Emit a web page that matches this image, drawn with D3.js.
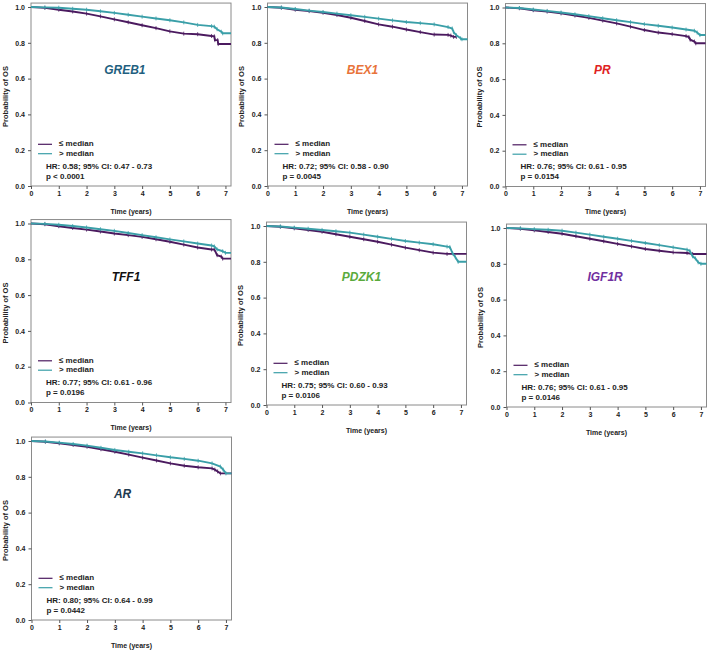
<!DOCTYPE html>
<html>
<head>
<meta charset="utf-8">
<script src="https://cdn.jsdelivr.net/npm/d3@7.9.0/dist/d3.min.js"></script>
<style>
  body { margin: 0; background: #fff; }
  svg { display: block; }
  text { font-family: "Liberation Sans", Arial, sans-serif; }
</style>
</head>
<body>
<svg id="chart" width="709" height="652"></svg>
<script>
// Gene panels
const genes = ['GREB1', 'BEX1', 'PR', 'TFF1', 'PDZK1', 'IGF1R', 'AR'];
const hrLabels = [
  'HR: 0.58; 95% CI: 0.47 - 0.73',
  'HR: 0.72; 95% CI: 0.58 - 0.90',
  'HR: 0.76; 95% CI: 0.61 - 0.95',
  'HR: 0.77; 95% CI: 0.61 - 0.96',
  'HR: 0.75; 95% CI: 0.60 - 0.93',
  'HR: 0.76; 95% CI: 0.61 - 0.95',
  'HR: 0.80; 95% CI: 0.64 - 0.99'
];
const pLabels = ['p < 0.0001', 'p = 0.0045', 'p = 0.0154', 'p = 0.0196', 'p = 0.0106', 'p = 0.0146', 'p = 0.0442'];
const titleColors = ['#1f5f80', '#e8733a', '#e02222', '#111111', '#5aaa3c', '#7030a0', '#1f3a4f'];

// Survival curves: [time (years), probability]
const lowCurves = [
  [[0,1],[0.5,0.995],[1,0.985],[1.5,0.975],[2,0.963],[2.5,0.948],[3,0.931],[3.5,0.915],[4,0.898],[4.5,0.882],[5,0.864],[5.5,0.851],[6,0.848],[6.5,0.838],[6.6,0.836],[6.62,0.815],[6.72,0.815],[6.74,0.793],[7.2,0.793]],
  [[0,1],[0.5,0.996],[1,0.985],[1.5,0.977],[2,0.968],[2.5,0.955],[3,0.94],[3.5,0.922],[4,0.903],[4.5,0.89],[5,0.874],[5.5,0.86],[6,0.846],[6.5,0.844],[6.6,0.84],[6.7,0.833],[6.8,0.833]],
  [[0,1],[0.5,0.996],[1,0.985],[1.5,0.977],[2,0.967],[2.5,0.955],[3,0.942],[3.5,0.927],[4,0.911],[4.5,0.893],[5,0.874],[5.5,0.86],[6,0.851],[6.5,0.84],[6.6,0.835],[6.65,0.82],[6.8,0.81],[6.85,0.8],[7.2,0.8]],
  [[0,1],[0.5,0.996],[1,0.985],[1.5,0.975],[2,0.966],[2.5,0.955],[3,0.944],[3.5,0.935],[4,0.925],[4.5,0.912],[5,0.898],[5.5,0.882],[6,0.866],[6.5,0.855],[6.6,0.855],[6.7,0.823],[6.85,0.815],[6.9,0.804],[7.2,0.804]],
  [[0,1],[0.5,0.996],[1,0.987],[1.5,0.978],[2,0.968],[2.5,0.954],[3,0.94],[3.5,0.926],[4,0.912],[4.5,0.896],[5,0.879],[5.5,0.865],[6,0.851],[6.5,0.844],[7.2,0.844]],
  [[0,1],[0.5,0.996],[1,0.987],[1.5,0.978],[2,0.968],[2.5,0.954],[3,0.94],[3.5,0.926],[4,0.911],[4.5,0.897],[5,0.883],[5.5,0.873],[6,0.864],[6.5,0.86],[6.7,0.855],[7.2,0.855]],
  [[0,1],[0.5,0.996],[1,0.987],[1.5,0.978],[2,0.968],[2.5,0.954],[3,0.94],[3.5,0.924],[4,0.907],[4.5,0.891],[5,0.875],[5.5,0.862],[6,0.853],[6.5,0.847],[6.6,0.84],[6.7,0.83],[6.8,0.819],[7.2,0.819]]
];
const highCurves = [
  [[0,1],[0.5,0.998],[1,0.996],[1.5,0.99],[2,0.985],[2.5,0.976],[3,0.967],[3.5,0.957],[4,0.946],[4.5,0.936],[5,0.926],[5.5,0.914],[6,0.9],[6.5,0.893],[6.6,0.89],[6.7,0.876],[6.85,0.862],[6.9,0.853],[7.2,0.853]],
  [[0,1],[0.5,0.997],[1,0.989],[1.5,0.98],[2,0.972],[2.5,0.963],[3,0.954],[3.5,0.945],[4,0.935],[4.5,0.925],[5,0.916],[5.5,0.91],[6,0.903],[6.5,0.888],[6.65,0.88],[6.7,0.86],[6.8,0.842],[6.95,0.825],[7,0.82],[7.2,0.82]],
  [[0,1],[0.5,0.997],[1,0.989],[1.5,0.981],[2,0.972],[2.5,0.962],[3,0.952],[3.5,0.94],[4,0.929],[4.5,0.918],[5,0.907],[5.5,0.898],[6,0.888],[6.5,0.877],[6.8,0.87],[6.9,0.86],[7,0.846],[7.2,0.846]],
  [[0,1],[0.5,0.998],[1,0.993],[1.5,0.986],[2,0.978],[2.5,0.968],[3,0.959],[3.5,0.947],[4,0.935],[4.5,0.923],[5,0.911],[5.5,0.9],[6,0.888],[6.5,0.877],[6.6,0.872],[6.7,0.855],[6.9,0.845],[7,0.836],[7.2,0.836]],
  [[0,1],[0.5,0.997],[1,0.991],[1.5,0.985],[2,0.978],[2.5,0.971],[3,0.963],[3.5,0.952],[4,0.94],[4.5,0.928],[5,0.916],[5.5,0.907],[6,0.898],[6.5,0.885],[6.6,0.882],[6.7,0.847],[6.8,0.825],[6.9,0.8],[7.2,0.8]],
  [[0,1],[0.5,0.998],[1,0.994],[1.5,0.99],[2,0.985],[2.5,0.974],[3,0.963],[3.5,0.951],[4,0.94],[4.5,0.928],[5,0.916],[5.5,0.904],[6,0.892],[6.5,0.879],[6.6,0.872],[6.7,0.842],[6.8,0.83],[6.9,0.808],[7,0.8],[7.2,0.8]],
  [[0,1],[0.5,0.997],[1,0.991],[1.5,0.983],[2,0.974],[2.5,0.962],[3,0.95],[3.5,0.94],[4,0.931],[4.5,0.92],[5,0.909],[5.5,0.9],[6,0.89],[6.5,0.875],[6.8,0.857],[6.9,0.84],[7,0.819],[7.2,0.819]]
];

// Title position per panel, in data units (years, probability)
const titlePos = [[3.38, 0.644], [3.42, 0.644], [3.49, 0.644], [3.42, 0.695], [3.42, 0.711], [3.55, 0.72], [3.28, 0.70]];

const xTicks = [0, 1, 2, 3, 4, 5, 6, 7];
const yTicks = [0, 0.2, 0.4, 0.6, 0.8, 1.0];
const legendLabels = ['\u2264 median', '> median'];

// Layout: box left edge and y pixel of probability 0
const panelPos = [
  [31, 186], [267.5, 186], [505.5, 186.5],
  [31, 402.5], [266.5, 405], [506.5, 407],
  [31.5, 620]
];
const plotW = 200, plotH = 179;
const lowColor = '#4b1a5f', highColor = '#3a9fa8';

const svg = d3.select('#chart');

genes.forEach((gene, i) => {
  const [left, bottom] = panelPos[i];
  const x = d3.scaleLinear().domain([0, 7.2]).range([left, left + plotW]);
  const y = d3.scaleLinear().domain([0, 1]).range([bottom, bottom - plotH]);
  const g = svg.append('g');

  // frame
  g.append('rect')
    .attr('x', x(0)).attr('y', y(1.022))
    .attr('width', x(7.2) - x(0)).attr('height', y(0) - y(1.022))
    .attr('fill', 'none').attr('stroke', '#8a8a8a').attr('stroke-width', 1);

  // axes
  const xAxis = g.append('g').attr('transform', `translate(0,${bottom})`)
    .call(d3.axisBottom(x).tickValues(xTicks).tickFormat(d3.format('d')).tickSize(3).tickPadding(2));
  const yAxis = g.append('g').attr('transform', `translate(${left},0)`)
    .call(d3.axisLeft(y).tickValues(yTicks).tickFormat(d3.format('.1f')).tickSize(3).tickPadding(3));
  [xAxis, yAxis].forEach(a => {
    a.select('.domain').remove();
    a.selectAll('line').attr('stroke', '#555');
    a.selectAll('text').attr('font-size', 7).attr('font-weight', 'bold')
      .attr('fill', '#222').attr('font-family', '"Liberation Sans", Arial, sans-serif');
  });

  g.append('text')
    .attr('x', (x(0) + x(7.2)) / 2).attr('y', bottom + 26)
    .attr('text-anchor', 'middle').attr('dominant-baseline', 'middle')
    .attr('font-size', 7).attr('font-weight', 'bold').attr('fill', '#222')
    .text('Time (years)');

  g.append('text')
    .attr('transform', `translate(${left - 25},${y(0.5)}) rotate(-90)`)
    .attr('text-anchor', 'middle').attr('dominant-baseline', 'middle')
    .attr('font-size', 7.5).attr('font-weight', 'bold').attr('fill', '#222')
    .text('Probability of OS');

  // curves
  const line = d3.line().x(d => x(d[0])).y(d => y(d[1])).curve(d3.curveLinear);
  [[lowCurves[i], lowColor], [highCurves[i], highColor]].forEach(([data, col]) => {
    g.append('path').datum(data)
      .attr('d', line).attr('fill', 'none')
      .attr('stroke', col).attr('stroke-width', 1.9);
    g.selectAll(null).data(data.filter(d => d[0] > 0 && d[0] < 7.2))
      .join('line')
      .attr('x1', d => x(d[0])).attr('x2', d => x(d[0]))
      .attr('y1', d => y(d[1]) - 2).attr('y2', d => y(d[1]) + 2)
      .attr('stroke', col).attr('stroke-width', 0.8);
  });

  // title
  g.append('text')
    .attr('x', x(titlePos[i][0])).attr('y', y(titlePos[i][1]))
    .attr('text-anchor', 'middle').attr('dominant-baseline', 'middle')
    .attr('font-size', 12).attr('font-weight', 'bold').attr('font-style', 'italic')
    .attr('fill', titleColors[i])
    .text(gene);

  // legend
  [lowColor, highColor].forEach((col, k) => {
    const ly = bottom - 41.7 + k * 9.4;
    g.append('line')
      .attr('x1', left + 7).attr('x2', left + 21)
      .attr('y1', ly).attr('y2', ly)
      .attr('stroke', col).attr('stroke-width', 1.2);
    g.append('text')
      .attr('x', left + 28).attr('y', ly)
      .attr('dominant-baseline', 'middle')
      .attr('font-size', 8).attr('font-weight', 'bold').attr('fill', '#222')
      .text(legendLabels[k]);
  });

  g.append('text')
    .attr('x', left + 15).attr('y', bottom - 19.3)
    .attr('dominant-baseline', 'middle')
    .attr('font-size', 8).attr('font-weight', 'bold').attr('fill', '#222')
    .text(hrLabels[i]);
  g.append('text')
    .attr('x', left + 15).attr('y', bottom - 9.3)
    .attr('dominant-baseline', 'middle')
    .attr('font-size', 8).attr('font-weight', 'bold').attr('fill', '#222')
    .text(pLabels[i]);
});
</script>
</body>
</html>
